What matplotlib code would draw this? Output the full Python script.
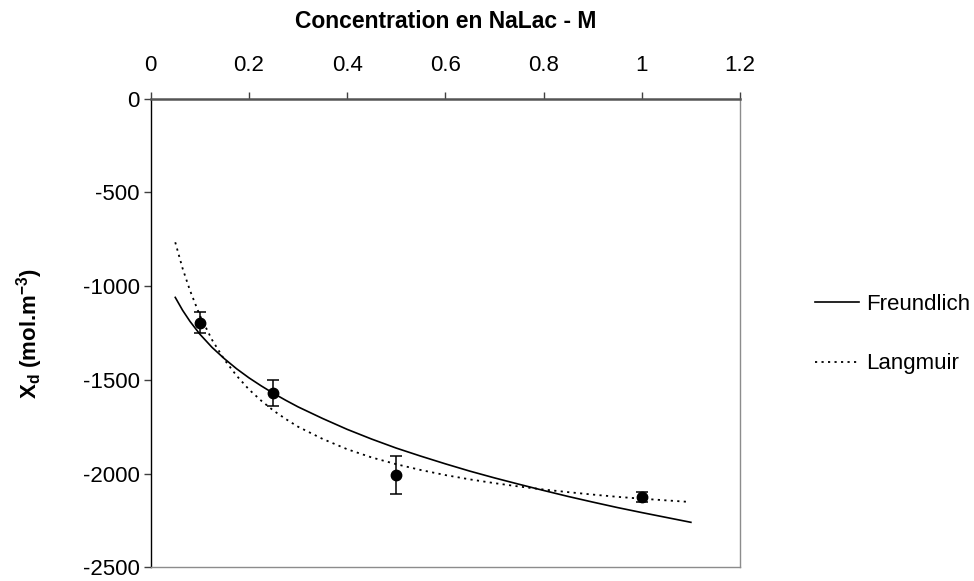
import matplotlib
matplotlib.use("Agg")
import matplotlib.pyplot as plt

plt.rcParams['font.family'] = ['Liberation Sans', 'DejaVu Sans']

# Measured points
conc = [0.1, 0.25, 0.5, 1.0]
xd = [-1195, -1570, -2008, -2124]
xd_err = [55, 70, 100, 25]

# Freundlich curve
fr_x = [0.05, 0.065, 0.08, 0.1, 0.125, 0.15, 0.175, 0.2, 0.225, 0.25, 0.275, 0.3, 0.35, 0.4, 0.45,
        0.5, 0.55, 0.6, 0.65, 0.7, 0.75, 0.8, 0.85, 0.9, 0.95, 1.0, 1.05, 1.1]
fr_y = [-1060, -1129, -1188, -1256, -1327, -1387, -1441, -1489, -1532, -1572, -1609, -1644, -1706,
        -1764, -1816, -1864, -1907, -1948, -1987, -2023, -2057, -2090, -2122, -2152, -2181, -2208,
        -2234, -2260]

# Langmuir curve
la_x = [0.05, 0.065, 0.08, 0.1, 0.125, 0.15, 0.175, 0.2, 0.225, 0.25, 0.275, 0.3, 0.35, 0.4, 0.45,
        0.5, 0.55, 0.6, 0.65, 0.7, 0.75, 0.8, 0.85, 0.9, 0.95, 1.0, 1.05, 1.09]
la_y = [-766, -906, -1023, -1156, -1287, -1392, -1478, -1551, -1611, -1664, -1709, -1750, -1815,
        -1870, -1914, -1950, -1981, -2008, -2031, -2051, -2069, -2085, -2099, -2112, -2124, -2134,
        -2143, -2150]

xticks = [0, 0.2, 0.4, 0.6, 0.8, 1, 1.2]
xticklabels = ["0", "0.2", "0.4", "0.6", "0.8", "1", "1.2"]
yticks = [0, -500, -1000, -1500, -2000, -2500]
yticklabels = ["0", "-500", "-1000", "-1500", "-2000", "-2500"]

fig = plt.figure(figsize=(9.74, 5.81), dpi=100)
ax = fig.add_axes([150.7/974, 1-567.3/581, (740-150.7)/974, (567.3-98.7)/581])

l1, = ax.plot(fr_x, fr_y, color='black', lw=1.2, label='Freundlich')
l2, = ax.plot(la_x, la_y, color='black', lw=1.3, linestyle=(0, (1.2, 2.4)), label='Langmuir')
ax.errorbar(conc, xd, yerr=xd_err, fmt='o', color='black', ms=7.5, capsize=4,
            elinewidth=1.1, capthick=1.1, zorder=5)

ax.set_xlim(0, 1.2)
ax.set_ylim(-2500, 0)
ax.xaxis.tick_top()
ax.xaxis.set_label_position('top')
ax.set_xticks(xticks)
ax.set_xticklabels(xticklabels)
ax.set_yticks(yticks)
ax.set_yticklabels(yticklabels)
ax.tick_params(axis='x', direction='out', length=5, width=1, pad=11, labelsize=16,
               labelcolor='black', color='#404040')
ax.tick_params(axis='y', direction='out', length=5, width=1, pad=3, labelsize=16,
               labelcolor='black', color='#404040')

ax.spines['left'].set_color('black')
ax.spines['left'].set_linewidth(1.0)
ax.spines['top'].set_color('#555555')
ax.spines['top'].set_linewidth(1.8)
ax.spines['right'].set_color('#8c8c8c')
ax.spines['bottom'].set_color('#8c8c8c')
ax.spines['right'].set_linewidth(1.0)
ax.spines['bottom'].set_linewidth(1.0)

ax.set_xlabel('Concentration en NaLac - M', fontsize=16.5, fontweight='bold', labelpad=20)
ax.set_ylabel(r'X$_\mathregular{d}$ (mol.m$^\mathregular{-3}$)', fontsize=16, fontweight='bold', labelpad=27)

fig.legend(handles=[l1, l2], loc='center left', bbox_to_anchor=(806/974, 1-334/581),
           frameon=False, fontsize=16, handlelength=2.0, handletextpad=0.3,
           labelspacing=1.75, borderaxespad=0)

fig.savefig('out.png', dpi=100)
